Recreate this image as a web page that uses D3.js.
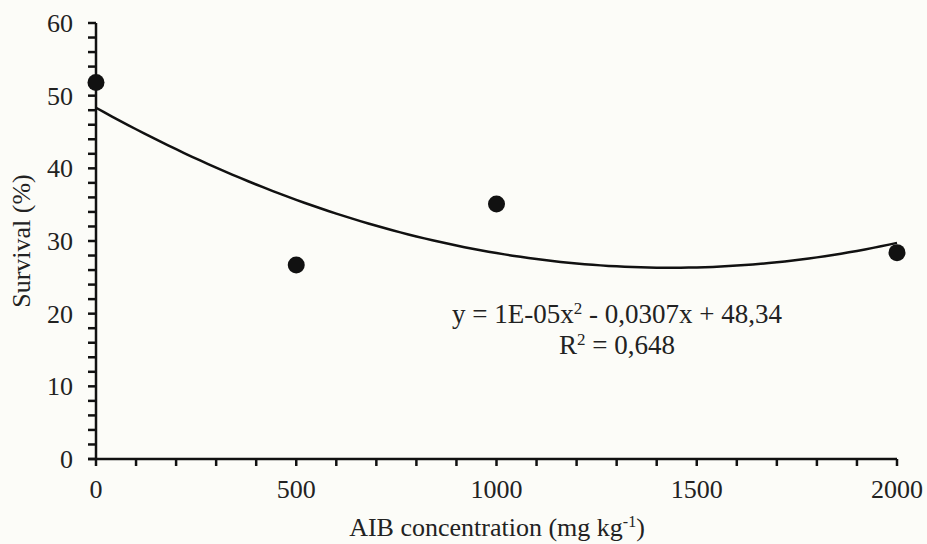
<!DOCTYPE html>
<html>
<head>
<meta charset="utf-8">
<script src="https://cdn.jsdelivr.net/npm/d3@7"></script>
<style>
  body { margin: 0; background: #fcfcf8; }
  svg text { font-family: "Liberation Serif", "Times New Roman", serif; fill: #222; }
</style>
</head>
<body>
<div id="chart"></div>
<script>
const doses = [0, 500, 1000, 2000];
const survival = [51.8, 26.7, 35.1, 28.4];
const fitCoef = [1.07e-5, -0.0307, 48.34]; // a, b, c of the trendline
const xTicks = [0, 500, 1000, 1500, 2000];
const yTicks = [0, 10, 20, 30, 40, 50, 60];

const width = 927, height = 544;
const margin = { top: 23, right: 30, bottom: 85, left: 96 };

const svg = d3.select("#chart").append("svg")
  .attr("width", width)
  .attr("height", height);

const x = d3.scaleLinear().domain([0, 2000]).range([margin.left, 897]);
const y = d3.scaleLinear().domain([0, 60]).range([459, margin.top]);

// y axis: major ticks every 10, minor every 2
const yAxis = svg.append("g").attr("transform", `translate(${x(0)},0)`);
yAxis.append("line")
  .attr("y1", y(0)).attr("y2", y(60))
  .attr("stroke", "#111").attr("stroke-width", 2.5);
yAxis.selectAll(".ytick")
  .data(d3.range(0, 61, 2))
  .join("line")
  .attr("x1", -8).attr("x2", 0)
  .attr("y1", d => y(d)).attr("y2", d => y(d))
  .attr("stroke", "#111").attr("stroke-width", 2.5);
yAxis.selectAll(".ylab")
  .data(yTicks)
  .join("text")
  .attr("x", -23).attr("y", d => y(d))
  .attr("dy", "0.35em")
  .attr("text-anchor", "end")
  .style("font-size", "26px")
  .text(d => d);

// x axis: major every 500, minor every 100
const xAxis = svg.append("g").attr("transform", `translate(0,${y(0)})`);
xAxis.append("line")
  .attr("x1", x(0) - 8).attr("x2", x(2000))
  .attr("stroke", "#111").attr("stroke-width", 2.5);
xAxis.selectAll(".xtick")
  .data(d3.range(0, 2001, 100))
  .join("line")
  .attr("x1", d => x(d)).attr("x2", d => x(d))
  .attr("y1", 0).attr("y2", 7)
  .attr("stroke", "#111").attr("stroke-width", 2.5);
xAxis.selectAll(".xlab")
  .data(xTicks)
  .join("text")
  .attr("x", d => x(d)).attr("y", 39)
  .attr("text-anchor", "middle")
  .style("font-size", "26px")
  .text(d => d);

// trendline
const curve = d3.range(0, 2001, 20).map(v => [v, fitCoef[0] * v * v + fitCoef[1] * v + fitCoef[2]]);
svg.append("path")
  .datum(curve)
  .attr("fill", "none")
  .attr("stroke", "#111")
  .attr("stroke-width", 2.5)
  .attr("d", d3.line().x(d => x(d[0])).y(d => y(d[1])));

// points
svg.selectAll(".pt")
  .data(doses)
  .join("circle")
  .attr("cx", d => x(d))
  .attr("cy", (d, i) => y(survival[i]))
  .attr("r", 8.5)
  .attr("fill", "#111");

// equation
const eq = svg.append("text")
  .attr("x", 617).attr("y", 323)
  .attr("text-anchor", "middle")
  .style("font-size", "27px");
eq.append("tspan").text("y = 1E-05x");
eq.append("tspan").attr("dy", -9).style("font-size", "17px").text("2");
eq.append("tspan").attr("dy", 9).text(" - 0,0307x + 48,34");

const r2 = svg.append("text")
  .attr("x", 617).attr("y", 354)
  .attr("text-anchor", "middle")
  .style("font-size", "27px");
r2.append("tspan").text("R");
r2.append("tspan").attr("dy", -9).style("font-size", "17px").text("2");
r2.append("tspan").attr("dy", 9).text(" = 0,648");

// axis titles
const xt = svg.append("text")
  .attr("x", 497).attr("y", 536)
  .attr("text-anchor", "middle")
  .style("font-size", "26px");
xt.append("tspan").text("AIB concentration (mg kg");
xt.append("tspan").attr("dy", -9).style("font-size", "16px").text("-1");
xt.append("tspan").attr("dy", 9).text(")");

svg.append("text")
  .attr("transform", `translate(30,${(y(0) + y(60)) / 2}) rotate(-90)`)
  .attr("text-anchor", "middle")
  .style("font-size", "26px")
  .text("Survival (%)");
</script>
</body>
</html>
